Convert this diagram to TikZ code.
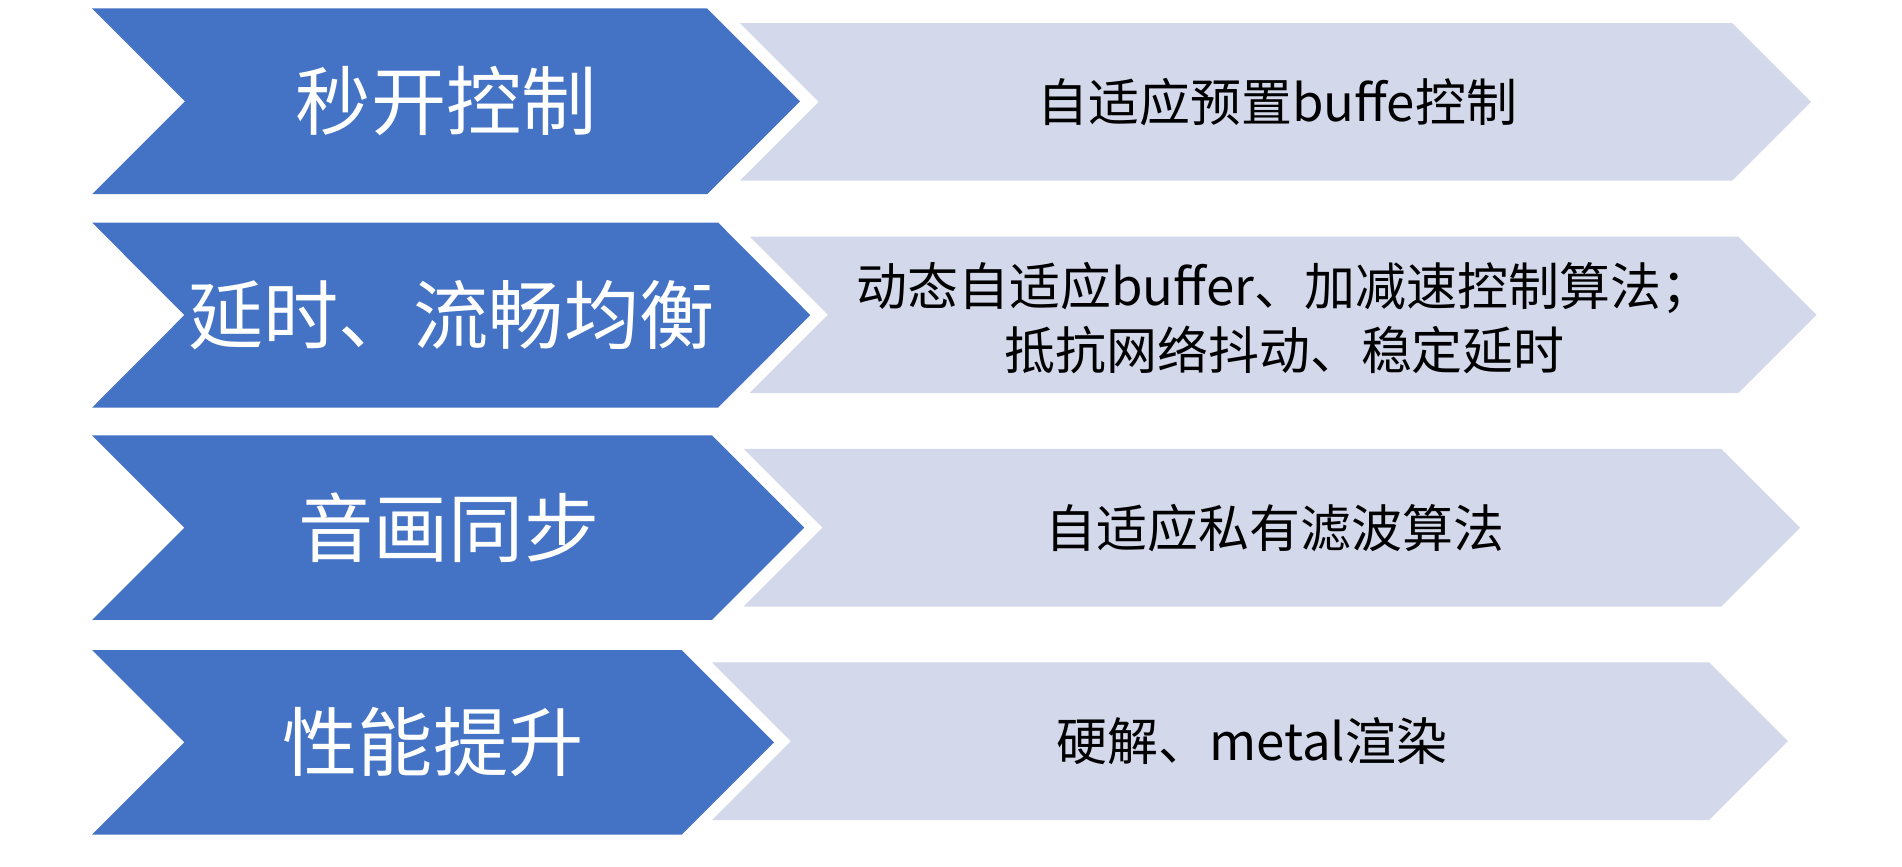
\documentclass[tikz,border=0pt]{standalone}
\usepackage{fontspec}
\setmainfont{Noto Sans CJK SC}
\definecolor{stepblue}{HTML}{4472C4}
\definecolor{detailgrey}{HTML}{D3D8EB}
\begin{document}
\begin{tikzpicture}[x=1pt,y=-1pt,
    phase/.style={fill=stepblue},
    detail/.style={fill=detailgrey},
    phaselabel/.style={text=white,font=\fontsize{62}{74}\selectfont,inner sep=0pt},
    detaillabel/.style={text=black,font=\fontsize{42}{53}\selectfont,align=center,inner sep=0pt}]
    \useasboundingbox (0,0) rectangle (1568,714);
    % row 1
    \path[phase] (76,7) -- (583,7) -- (659.5,83.5) -- (583,160) -- (76,160) -- (152.5,83.5) -- cycle;
    \path[detail] (610,19) -- (1428,19) -- (1493,84) -- (1428,149) -- (610,149) -- (675,84) -- cycle;
    \node[phaselabel] (open) at (368,83.5) {秒开控制};
    \node[detaillabel] (openinfo) at (1053,84) {自适应预置buffe控制};
    % row 2
    \path[phase] (76,183.5) -- (592,183.5) -- (668,259.75) -- (592,336) -- (76,336) -- (152,259.75) -- cycle;
    \path[detail] (618,195) -- (1433,195) -- (1497.5,259.5) -- (1433,324) -- (618,324) -- (682.5,259.5) -- cycle;
    \node[phaselabel] (delay) at (372,259.75) {延时、流畅均衡};
    \node[detaillabel] (delayinfo) at (1059,262) {动态自适应buffer、加减速控制算法；\\抵抗网络抖动、稳定延时};
    % row 3
    \path[phase] (76,359) -- (587,359) -- (663,435) -- (587,511) -- (76,511) -- (152,435) -- cycle;
    \path[detail] (613,370) -- (1419,370) -- (1484,435) -- (1419,500) -- (613,500) -- (678,435) -- cycle;
    \node[phaselabel] (sync) at (370,435) {音画同步};
    \node[detaillabel] (syncinfo) at (1051,435) {自适应私有滤波算法};
    % row 4
    \path[phase] (76,536) -- (562,536) -- (638,612) -- (562,688) -- (76,688) -- (152,612) -- cycle;
    \path[detail] (587,546) -- (1409,546) -- (1474,611) -- (1409,676) -- (587,676) -- (652,611) -- cycle;
    \node[phaselabel] (perf) at (357,612) {性能提升};
    \node[detaillabel] (perfinfo) at (1032,611) {硬解、metal渲染};
\end{tikzpicture}
\end{document}
